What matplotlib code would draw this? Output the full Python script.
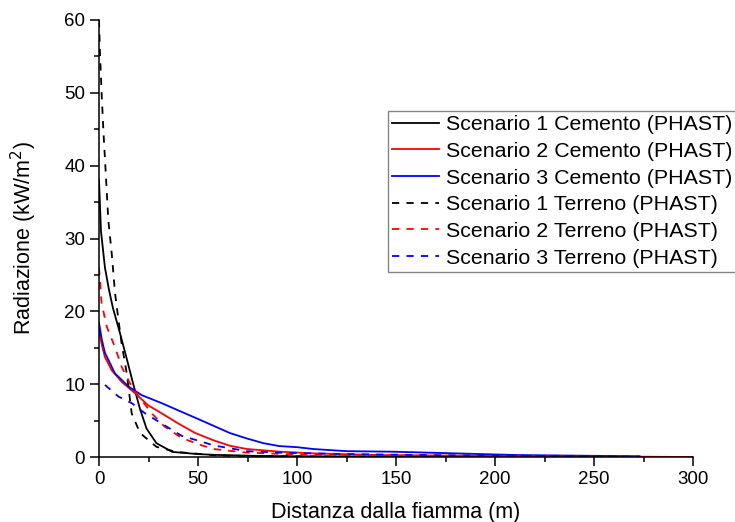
import numpy as np
import matplotlib.pyplot as plt
from matplotlib.ticker import MultipleLocator

plt.rcParams['font.family'] = ['Liberation Sans', 'DejaVu Sans']

# ====== data ======
x_s1c = [0, 1, 3, 5, 7, 10.6, 14, 17.3, 20.7, 24, 29, 37, 50, 58, 80, 100, 150, 200, 250, 300]
y_s1c = [38, 31, 26, 23, 20.5, 17.0, 13.5, 10.0, 6.6, 3.9, 1.9, 0.7, 0.4, 0.3, 0.15, 0.1, 0.05, 0.03, 0.02, 0.0]

x_s2c = [0, 1.5, 3, 6.4, 11.5, 18, 24.8, 31.6, 40, 48.5, 57.7, 66, 74.6, 91.4, 108, 142, 200, 250, 300]
y_s2c = [17.4, 15.3, 13.7, 11.9, 10.3, 8.8, 7.1, 6.0, 4.6, 3.3, 2.3, 1.55, 1.1, 0.73, 0.5, 0.27, 0.15, 0.08, 0.0]

x_s3c = [0, 1.5, 3, 8, 14.8, 21.5, 31.6, 40, 48.5, 57.7, 66, 74.6, 83, 91, 100, 108, 125, 148.5, 211, 273]
y_s3c = [18.4, 16.0, 14.3, 11.5, 9.7, 8.5, 7.4, 6.4, 5.4, 4.3, 3.3, 2.55, 1.9, 1.5, 1.35, 1.1, 0.8, 0.73, 0.27, 0.1]

x_s1t = [0, 0.5, 1.3, 2.2, 3.4, 4.7, 6.4, 8.1, 9.5, 11.4, 14, 16.5, 20.7, 29, 39, 60, 100, 150, 180]
y_s1t = [60, 55.5, 50, 44.9, 39, 32.5, 28, 22.5, 19.5, 15.6, 11.5, 6, 3.3, 1.4, 0.7, 0.2, 0.08, 0.03, 0.0]

x_s2t = [0, 1.3, 3.9, 8, 11.4, 16.5, 21.5, 26.6, 33, 41.8, 51.9, 57.7, 74.6, 100, 150, 200, 250, 290]
y_s2t = [26, 21.1, 17.9, 15.1, 12.4, 9.65, 7.8, 6.0, 4.2, 2.6, 1.6, 1.1, 0.6, 0.35, 0.2, 0.12, 0.06, 0.0]

x_s3t = [3, 9.8, 16.5, 23.2, 31.6, 41.8, 51.9, 57.7, 74.6, 91, 125, 170, 220, 273]
y_s3t = [9.9, 8.3, 7.4, 6.0, 4.6, 2.9, 2.1, 1.6, 0.8, 0.6, 0.4, 0.25, 0.15, 0.05]

labels = ['Scenario 1 Cemento (PHAST)', 'Scenario 2 Cemento (PHAST)',
          'Scenario 3 Cemento (PHAST)', 'Scenario 1 Terreno (PHAST)',
          'Scenario 2 Terreno (PHAST)', 'Scenario 3 Terreno (PHAST)']

# ====== figure ======
fig = plt.figure(figsize=(7.35, 5.22), dpi=100)
ax = fig.add_axes([0.1347, 0.1245, 0.8083, 0.8372])

dash = (0, (4, 4))
ax.plot(x_s1c, y_s1c, color='black', lw=1.3, label=labels[0])
ax.plot(x_s2c, y_s2c, color='red', lw=1.3, label=labels[1])
ax.plot(x_s3c, y_s3c, color='blue', lw=1.3, label=labels[2])
ax.plot(x_s1t, y_s1t, color='black', lw=1.3, ls=dash, label=labels[3])
ax.plot(x_s2t, y_s2t, color='red', lw=1.3, ls=dash, label=labels[4])
ax.plot(x_s3t, y_s3t, color='blue', lw=1.3, ls=dash, label=labels[5])

ax.set_xlim(0, 300)
ax.set_ylim(0, 60)
ax.xaxis.set_major_locator(MultipleLocator(50))
ax.xaxis.set_minor_locator(MultipleLocator(25))
ax.yaxis.set_major_locator(MultipleLocator(10))
ax.yaxis.set_minor_locator(MultipleLocator(5))

for s in ['top', 'right']:
    ax.spines[s].set_visible(False)
for s in ['left', 'bottom']:
    ax.spines[s].set_linewidth(1.1)
ax.tick_params(which='major', direction='out', length=6.5, width=1.1, labelsize=13.5)
ax.tick_params(which='minor', direction='out', length=3.5, width=1.1)

ax.set_xlabel('Distanza dalla fiamma (m)', fontsize=15.5, labelpad=10)
ax.set_ylabel('Radiazione (kW/m$^2$)', fontsize=15.5, labelpad=18)

leg = ax.legend(loc='upper left', bbox_to_anchor=(0.4865, 0.792), fontsize=15.4,
                frameon=True, fancybox=False, edgecolor='#666666',
                handlelength=2.2, handletextpad=0.33, labelspacing=0.36,
                borderaxespad=0, borderpad=0.2)
leg.get_frame().set_linewidth(1.0)

fig.savefig('out.png', dpi=100)
